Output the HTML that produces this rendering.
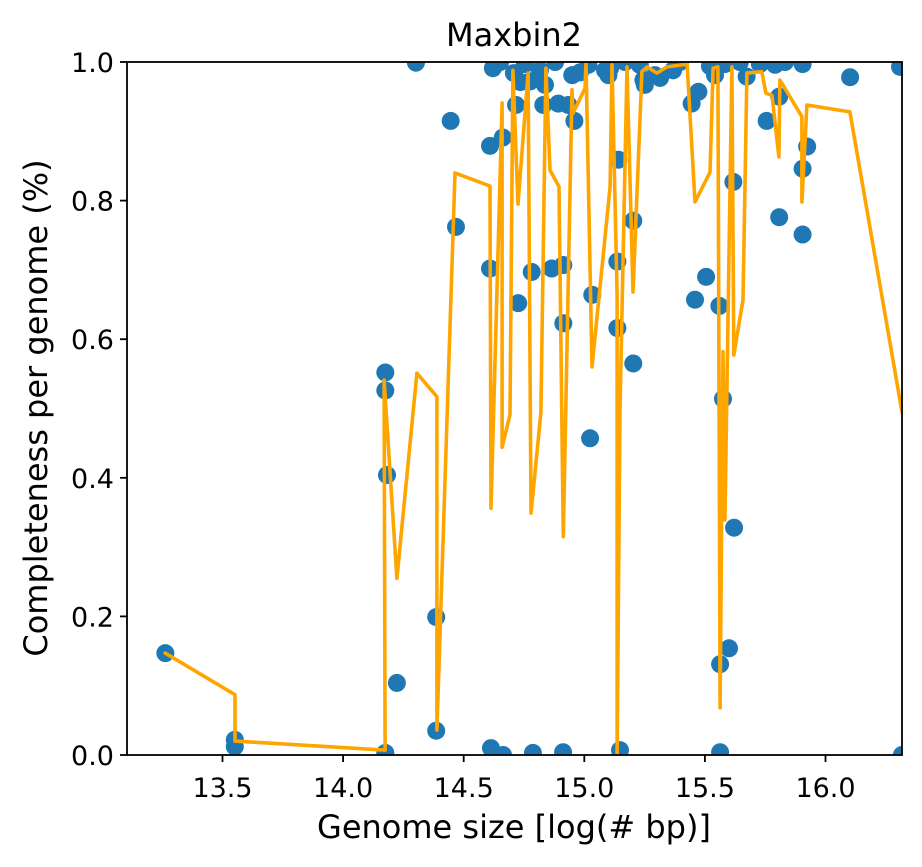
<!DOCTYPE html>
<html><head><meta charset="utf-8">
<style>
body{margin:0;background:#fff;}
svg{display:block;font-family:"DejaVu Sans","Liberation Sans",sans-serif;}
</style></head>
<body>
<svg id="chart" width="922" height="867" viewBox="0 0 922 867">
  <rect width="922" height="867" fill="#fff"/>
  <text x="514" y="46" font-size="32" text-anchor="middle" fill="#000">Maxbin2</text>
  <g id="marks"></g>
  <g id="axes"></g>
  <text x="514" y="838" font-size="32" text-anchor="middle" fill="#000">Genome size [log(# bp)]</text>
  <text x="47" y="408" font-size="32" text-anchor="middle" fill="#000" transform="rotate(-90 47 408)">Completeness per genome (%)</text>
</svg>
<script>
const pointX = [13.263,13.551,13.551,14.175,14.175,14.182,14.223,14.386,14.386,14.175,14.302,14.446,14.468,14.609,14.662,14.621,14.717,14.708,14.775,14.830,14.892,14.934,14.959,14.950,15.017,15.100,14.609,14.782,14.865,14.913,14.726,14.913,15.033,15.141,15.203,15.137,15.137,15.203,15.245,15.314,15.368,15.445,15.473,15.756,15.808,15.924,15.905,15.808,15.905,15.505,15.459,15.560,15.618,15.905,15.673,16.102,16.309,15.024,15.575,15.621,15.600,15.563,14.613,14.663,14.787,14.912,15.148,15.563,16.317,14.651,14.754,14.816,14.879,15.107,15.169,15.230,15.293,15.397,15.521,15.542,15.583,15.645,15.728,15.791,15.832,15.251,15.086,14.982,14.735,14.837];
const pointY = [0.147,0.022,0.012,0.552,0.526,0.404,0.104,0.199,0.035,0.003,0.999,0.915,0.762,0.879,0.891,0.991,0.938,0.984,0.972,0.938,0.940,0.938,0.915,0.981,0.996,0.981,0.702,0.697,0.702,0.707,0.652,0.623,0.664,0.859,0.771,0.712,0.616,0.565,0.974,0.977,0.988,0.940,0.957,0.915,0.950,0.878,0.846,0.776,0.751,0.690,0.657,0.648,0.827,0.997,0.979,0.978,0.993,0.457,0.514,0.328,0.154,0.131,0.010,0.000,0.003,0.004,0.007,0.004,0.000,1.0,0.997,0.988,1.0,0.991,1.0,0.996,0.981,1.0,0.994,0.981,0.997,1.0,0.997,0.996,1.0,0.967,0.988,0.985,0.971,0.967];
const lineX = [13.262,13.552,13.552,14.174,14.170,14.223,14.306,14.389,14.389,14.464,14.609,14.613,14.659,14.659,14.692,14.704,14.725,14.767,14.779,14.820,14.841,14.858,14.895,14.913,14.949,14.953,15.003,15.007,15.032,15.107,15.115,15.136,15.136,15.148,15.177,15.202,15.239,15.260,15.301,15.343,15.426,15.459,15.521,15.534,15.554,15.563,15.575,15.583,15.612,15.620,15.658,15.674,15.736,15.753,15.778,15.807,15.811,15.902,15.902,15.923,16.101,16.317];
const lineY = [0.147,0.087,0.020,0.007,0.541,0.255,0.551,0.517,0.036,0.840,0.821,0.356,0.941,0.444,0.491,0.988,0.795,0.984,0.349,0.494,0.991,0.844,0.820,0.315,0.960,0.926,0.962,0.999,0.560,0.820,0.996,0.664,0.0,0.498,0.993,0.668,0.986,0.993,0.984,0.993,0.997,0.798,0.841,0.991,0.993,0.068,0.582,0.339,0.993,0.577,0.657,0.984,0.986,0.955,0.952,0.863,0.974,0.921,0.798,0.938,0.928,0.495];
const xTicks = [13.5,14.0,14.5,15.0,15.5,16.0];
const xTickLabels = ["13.5","14.0","14.5","15.0","15.5","16.0"];
const yTicks = [0,0.2,0.4,0.6,0.8,1.0];
const yTickLabels = ["0.0","0.2","0.4","0.6","0.8","1.0"];

const NS = "http://www.w3.org/2000/svg";
const L = 127, R = 902, T = 62, B = 755;
const X_MIN = 13.5 - (222.5 - L) / 241.2, X_MAX = 13.5 + (R - 222.5) / 241.2;
function sx(v){ return L + (v - X_MIN) / (X_MAX - X_MIN) * (R - L); }
function sy(v){ return B - v * (B - T); }
function mk(tag, attrs, parent){ const e = document.createElementNS(NS, tag); for (const k in attrs) e.setAttribute(k, attrs[k]); parent.appendChild(e); return e; }

const marks = document.getElementById('marks');
const axes = document.getElementById('axes');
const defs = mk('defs', {}, marks);
const cp = mk('clipPath', {id:'clip'}, defs);
mk('rect', {x:L, y:T, width:R-L, height:B-T}, cp);
const g = mk('g', {'clip-path':'url(#clip)'}, marks);

pointX.forEach((xv, i) => {
  const c = mk('circle', {cx:sx(xv), cy:sy(pointY[i]), r:9, fill:'#1f77b4'}, g);
  
  
});
const pts = lineX.map((xv, i) => sx(xv).toFixed(1) + ',' + sy(lineY[i]).toFixed(1)).join(' ');
const pl = mk('polyline', {points:pts, fill:'none', stroke:'#ffa500', 'stroke-width':3.6, 'stroke-linejoin':'round', 'stroke-linecap':'round'}, g);



const frame = mk('rect', {x:L, y:T, width:R-L, height:B-T, fill:'none', stroke:'#000', 'stroke-width':1.8}, axes);



xTicks.forEach((v, i) => {
  const x = sx(v);
  const t = mk('line', {x1:x, x2:x, y1:B, y2:B+7, stroke:'#000', 'stroke-width':1.8}, axes);
  
  
  const lb = mk('text', {x:x, y:B+42, 'font-size':27, 'text-anchor':'middle', fill:'#000'}, axes);
  lb.textContent = xTickLabels[i];
  
  
});
yTicks.forEach((v, i) => {
  const y = sy(v);
  const t = mk('line', {x1:L-7, x2:L, y1:y, y2:y, stroke:'#000', 'stroke-width':1.8}, axes);
  
  
  const lb = mk('text', {x:L-13, y:y+10, 'font-size':27, 'text-anchor':'end', fill:'#000'}, axes);
  lb.textContent = yTickLabels[i];
  
  
});
</script>
</body></html>
